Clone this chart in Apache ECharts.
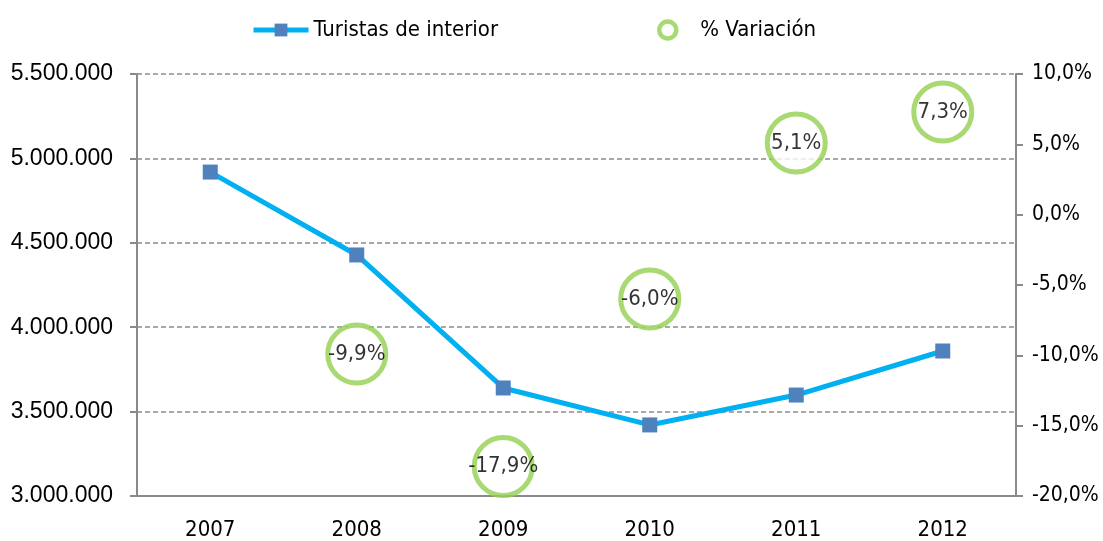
<!DOCTYPE html>
<html>
<head>
<meta charset="utf-8">
<title>Turistas de interior</title>
<script src="https://cdn.jsdelivr.net/npm/echarts@6/dist/echarts.min.js"></script>
<style>
html, body { margin: 0; padding: 0; background: #fff; }
#main { width: 1103px; height: 541px; }
</style>
</head>
<body>
<div id="main"></div>
<script type="text/javascript">
// datos
var years = ['2007', '2008', '2009', '2010', '2011', '2012'];
var turistas = [4919000, 4428000, 3640000, 3421000, 3598000, 3859000];
var variacion = [null, -9.9, -17.9, -6.0, 5.1, 7.3];

var narrow = '"Liberation Sans Narrow", "DejaVu Sans Condensed", sans-serif';

function miles(v) {
    return String(v).replace(/\B(?=(\d{3})+(?!\d))/g, '.');
}
function pct(v) {
    return v.toFixed(1).replace('.', ',') + '%';
}

var chart = echarts.init(document.getElementById('main'));
var legendText = { fontFamily: narrow, fontSize: 22, color: '#000' };
var option = {
    animation: false,
    legend: [{
        top: 14,
        left: 246,
        itemWidth: 55,
        itemHeight: 16,
        textStyle: legendText,
        data: [{
            name: 'Turistas de interior',
            lineStyle: { width: 5, color: '#00B0F0' },
            itemStyle: { color: '#4F81BD' }
        }]
    }, {
        top: 14,
        left: 652,
        itemWidth: 55,
        itemHeight: 17,
        textStyle: legendText,
        data: [{
            name: '% Variación',
            itemStyle: { color: '#fff', borderColor: '#92D050', borderWidth: 4.5 }
        }]
    }],
    grid: { left: 137, right: 87, top: 74, bottom: 45, outerBoundsMode: 'none', containLabel: false },
    xAxis: {
        type: 'category',
        data: years,
        axisLine: { onZero: false, lineStyle: { color: '#8a8a8a', width: 2 } },
        axisTick: { length: 7, lineStyle: { color: '#8a8a8a', width: 2 } },
        axisLabel: { fontFamily: narrow, fontSize: 22, color: '#000', margin: 23 }
    },
    yAxis: [{
        type: 'value',
        min: 3000000,
        max: 5500000,
        interval: 500000,
        axisLine: { show: true, lineStyle: { color: '#8a8a8a', width: 2 } },
        axisTick: { show: true, length: 7, lineStyle: { color: '#8a8a8a', width: 2 } },
        splitLine: { lineStyle: { color: '#8c8c8c', type: [5, 3], width: 1.5 } },
        axisLabel: {
            fontFamily: '"Liberation Sans", Arial, sans-serif', fontSize: 23, color: '#000', margin: 24,
            formatter: miles
        }
    }, {
        type: 'value',
        min: -20,
        max: 10,
        interval: 5,
        position: 'right',
        axisLine: { show: true, lineStyle: { color: '#8a8a8a', width: 2 } },
        axisTick: { show: true, length: 7, lineStyle: { color: '#8a8a8a', width: 2 } },
        splitLine: { show: false },
        axisLabel: { fontFamily: narrow, fontSize: 21, color: '#000', margin: 16, formatter: pct }
    }],
    series: [{
        name: 'Turistas de interior',
        type: 'line',
        data: turistas,
        symbol: 'rect',
        symbolSize: 15,
        itemStyle: { color: '#4F81BD' },
        lineStyle: { color: '#00B0F0', width: 5 },
        z: 3
    }, {
        name: '% Variación',
        type: 'scatter',
        yAxisIndex: 1,
        data: variacion,
        symbol: 'circle',
        symbolSize: 58,
        itemStyle: { color: '#fff', borderColor: '#92D050', borderWidth: 5 },
        label: {
            show: true,
            position: 'inside',
            fontFamily: narrow,
            fontSize: 22,
            color: '#000',
            formatter: function (p) { return pct(Array.isArray(p.value) ? p.value[1] : p.value); }
        },
        z: 4
    }]
};
chart.setOption(option);
</script>
</body>
</html>
